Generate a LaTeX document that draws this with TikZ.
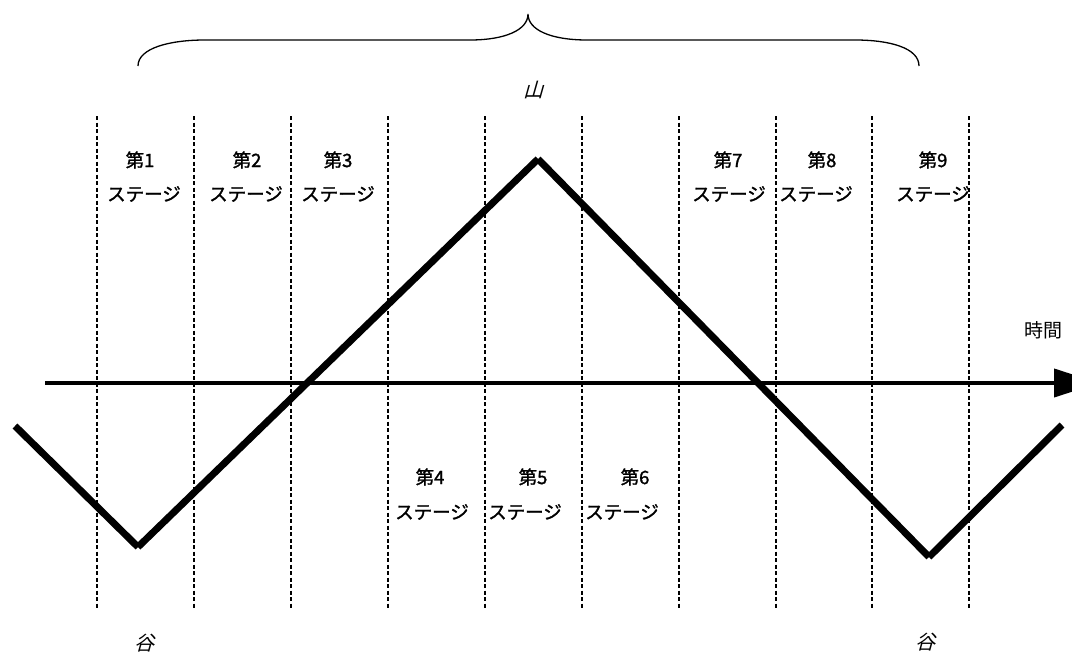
\documentclass[tikz,border=0pt]{standalone}
\usepackage{fontspec}
\newfontfamily\jp{Noto Sans CJK JP}
\newfontfamily\jpbold[FakeBold=1.5]{Noto Sans CJK JP}
\newfontfamily\jpit[FakeSlant=0.28]{Noto Sans CJK JP}
\usetikzlibrary{arrows.meta}
\begin{document}
\begin{tikzpicture}[x=1pt,y=-1pt,
  dashline/.style={line width=1.3pt,dash pattern=on 4pt off 2.5pt},
  axisline/.style={line width=4pt,-{Triangle[length=45pt,width=28pt]}},
  zig/.style={line width=7pt,line cap=butt},
  bracepath/.style={line width=1.3pt},
  lbl/.style={font=\jpbold\fontsize{18.5}{20}\selectfont,inner sep=0pt},
  plainlbl/.style={font=\jp\fontsize{19}{21}\selectfont,inner sep=0pt},
  itlbl/.style={font=\jpit\fontsize{20}{22}\selectfont,inner sep=0pt}]
\useasboundingbox (0,0) rectangle (1072,653);
% dashed stage separators
\foreach \x in {97,194,291,388,485,582,679,776,872,969}
  \draw[dashline] (\x,116) -- (\x,608);
% time axis
\coordinate (ax0) at (45,383);
\coordinate (ax1) at (1099,383);
\draw[axisline] (ax0) -- (ax1);
\node[plainlbl] (t) at (1043,330) {時間};
% zigzag cycle
\coordinate (z0) at (15,426);
\coordinate (v1) at (138,547);
\coordinate (pk) at (538,159);
\coordinate (v2) at (929,557);
\coordinate (z4) at (1062,425);
\draw[zig] (z0) -- (v1);
\draw[zig] (v1) -- (pk);
\draw[zig] (pk) -- (v2);
\draw[zig] (v2) -- (z4);
% brace
\draw[bracepath] (138,66) .. controls (138,48) and (170,40) .. (205,40) -- (470,40)
  .. controls (505,40) and (528,30) .. (528,14)
  .. controls (528,30) and (551,40) .. (587,40) -- (855,40)
  .. controls (890,40) and (919,48) .. (919,66);
\node[itlbl] (yama) at (533,90) {山};
\node[itlbl] (tani1) at (144,643) {谷};
\node[itlbl] (tani2) at (925,642) {谷};
% stage labels (upper)
\node[lbl] (s1a) at (140,160) {第1};
\node[lbl] (s1b) at (144,194) {ステージ};
\node[lbl] (s2a) at (247,160) {第2};
\node[lbl] (s2b) at (246,194) {ステージ};
\node[lbl] (s3a) at (338,160) {第3};
\node[lbl] (s3b) at (338,194) {ステージ};
\node[lbl] (s7a) at (728,160) {第7};
\node[lbl] (s7b) at (729,194) {ステージ};
\node[lbl] (s8a) at (822,160) {第8};
\node[lbl] (s8b) at (816,194) {ステージ};
\node[lbl] (s9a) at (933,160) {第9};
\node[lbl] (s9b) at (933,194) {ステージ};
% stage labels (lower)
\node[lbl] (s4a) at (430,477) {第4};
\node[lbl] (s4b) at (432,512) {ステージ};
\node[lbl] (s5a) at (533,477) {第5};
\node[lbl] (s5b) at (525,512) {ステージ};
\node[lbl] (s6a) at (635,477) {第6};
\node[lbl] (s6b) at (622,512) {ステージ};
\end{tikzpicture}
\end{document}
